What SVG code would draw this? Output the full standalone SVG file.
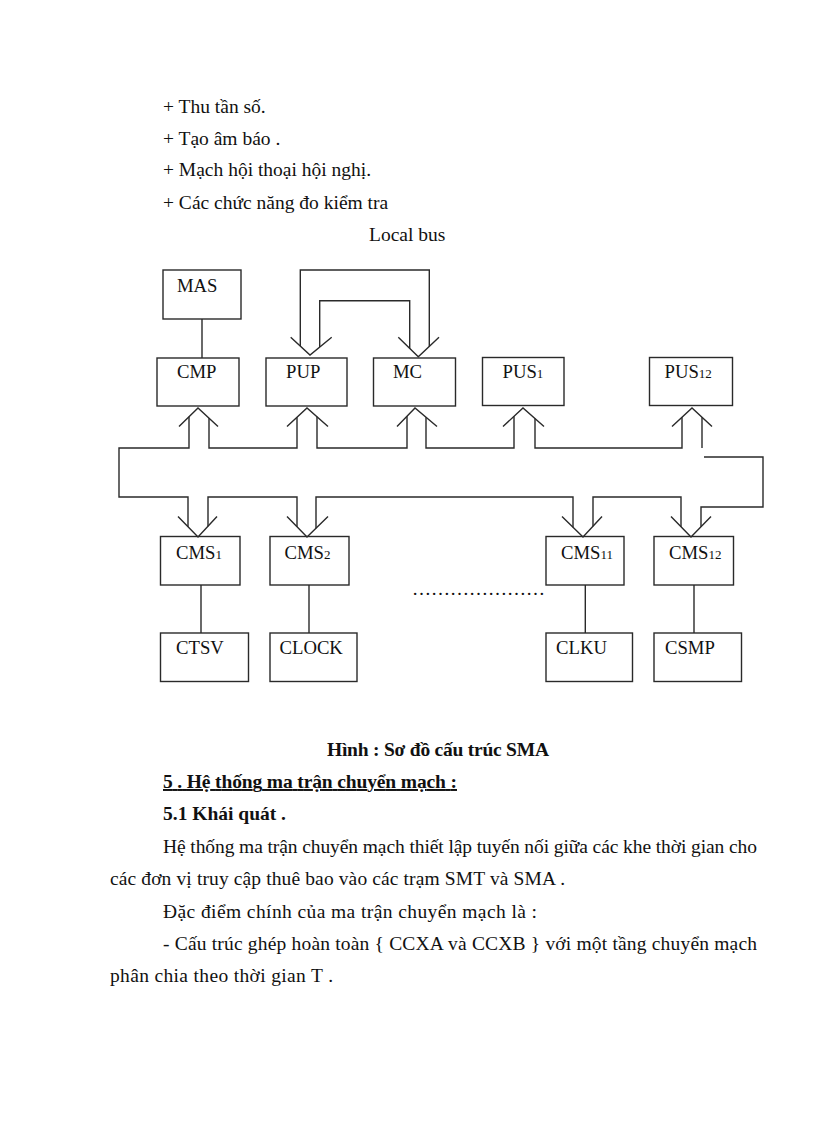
<svg xmlns="http://www.w3.org/2000/svg" width="816" height="1123" viewBox="0 0 816 1123">
<style>
.bg{fill:#fff}
.box{fill:none;stroke:#2a2a2a;stroke-width:1.4}
.ln{fill:none;stroke:#2a2a2a;stroke-width:1.4;stroke-linejoin:miter}
.lbl{font-family:"Liberation Serif","Times New Roman",serif;font-size:18.7px;fill:#111}
.sub{font-size:13px}
.t{font-family:"Liberation Serif","Times New Roman",serif;font-size:19.5px;fill:#111}
.b{font-weight:bold}
</style>
<rect class="bg" x="0" y="0" width="816" height="1123"/>

<g id="text-top">
<text class="t" x="163" y="113">+ Thu tần số.</text>
<text class="t" x="163" y="144.5">+ Tạo âm báo .</text>
<text class="t" x="163" y="176">+ Mạch hội thoại hội nghị.</text>
<text class="t" x="163" y="208.5">+ Các chức năng đo kiểm tra</text>
<text class="t" x="369" y="240.5">Local bus</text>
</g>

<g id="connectors">
<!-- MAS - CMP -->
<line class="ln" x1="202" y1="319" x2="202" y2="358"/>
<!-- loops between PUP and MC -->
<path class="ln" d="M300.3,346.1 V270 H429.3 V346.4"/>
<path class="ln" d="M319.7,347 V300.7 H409.7 V348.4"/>
<path class="ln" d="M290.7,337.3 L310,355 L331.7,337.3"/>
<path class="ln" d="M398.3,337.3 L418.3,356.7 L439,337.3"/>
<!-- up arrowheads -->
<path class="ln" d="M179,426.5 L198,408 L218,426.5"/>
<path class="ln" d="M287,426.5 L307,408 L328,426.5"/>
<path class="ln" d="M397,426.5 L415,408 L437,426.5"/>
<path class="ln" d="M503,426.5 L523,408 L544,426.5"/>
<path class="ln" d="M672,426.5 L692,408 L712,426.5"/>
<!-- down arrowheads -->
<path class="ln" d="M178,516.5 L198,537 L217,516.5"/>
<path class="ln" d="M287,516.5 L307,537 L328,516.5"/>
<path class="ln" d="M562,516.5 L583,537 L602,516.5"/>
<path class="ln" d="M671,516.5 L691,537 L711,516.5"/>
<!-- bus -->
<path class="ln" d="M189,416.8 V448 H119 V497 H188 V526.75"/>
<path class="ln" d="M209,418.2 V448 H297 V417.25"/>
<path class="ln" d="M317,416.8 V448 H407 V416.2"/>
<path class="ln" d="M426,417.25 V448 H514 V416.3"/>
<path class="ln" d="M535,418.6 V448 H682 V417.25"/>
<path class="ln" d="M702,417.25 V448"/>
<path class="ln" d="M208,526.2 V497 H297 V526.75"/>
<path class="ln" d="M316,528.2 V497 H573 V527.2"/>
<path class="ln" d="M593,526.2 V497 H681 V526.75"/>
<path class="ln" d="M701,526.75 V507 H763 V457 H704"/>
<!-- CMS to lower boxes -->
<line class="ln" x1="201" y1="585" x2="201" y2="633"/>
<line class="ln" x1="309" y1="585" x2="309" y2="633"/>
<line class="ln" x1="585.3" y1="585" x2="585.3" y2="633"/>
<line class="ln" x1="694" y1="585" x2="694" y2="633"/>
</g>

<g id="MAS"><rect class="box" x="163" y="270" width="78" height="49"/><text class="lbl" x="177" y="292">MAS</text></g>
<g id="CMP"><rect class="box" x="157" y="358" width="82" height="48"/><text class="lbl" x="177" y="378">CMP</text></g>
<g id="PUP"><rect class="box" x="266" y="358" width="81" height="48"/><text class="lbl" x="286" y="378">PUP</text></g>
<g id="MC"><rect class="box" x="373.5" y="358" width="82" height="48"/><text class="lbl" x="393" y="378">MC</text></g>
<g id="PUS1"><rect class="box" x="482.5" y="357.5" width="81.5" height="48"/><text class="lbl" x="502.5" y="378">PUS<tspan class="sub">1</tspan></text></g>
<g id="PUS12"><rect class="box" x="649.5" y="357.5" width="83" height="48"/><text class="lbl" x="664.5" y="378">PUS<tspan class="sub">12</tspan></text></g>

<g id="CMS1"><rect class="box" x="160.5" y="536.5" width="79.5" height="48.5"/><text class="lbl" x="176" y="558.5">CMS<tspan class="sub">1</tspan></text></g>
<g id="CMS2"><rect class="box" x="270" y="536.5" width="79" height="48.5"/><text class="lbl" x="284.5" y="558.5">CMS<tspan class="sub">2</tspan></text></g>
<g id="CMS11"><rect class="box" x="546" y="536.5" width="78" height="48.5"/><text class="lbl" x="561" y="558.5">CMS<tspan class="sub">11</tspan></text></g>
<g id="CMS12"><rect class="box" x="654" y="536.5" width="79.5" height="48.5"/><text class="lbl" x="669" y="558.5">CMS<tspan class="sub">12</tspan></text></g>

<g id="CTSV"><rect class="box" x="160.5" y="633" width="88" height="48.5"/><text class="lbl" x="176" y="653.5">CTSV</text></g>
<g id="CLOCK"><rect class="box" x="270" y="633" width="87" height="48.5"/><text class="lbl" x="279.5" y="653.5">CLOCK</text></g>
<g id="CLKU"><rect class="box" x="546" y="633" width="86.5" height="48.5"/><text class="lbl" x="556" y="653.5">CLKU</text></g>
<g id="CSMP"><rect class="box" x="654" y="633" width="87.5" height="48.5"/><text class="lbl" x="665" y="653.5">CSMP</text></g>

<g id="ellipsis"><text class="t" x="412" y="595" textLength="133" lengthAdjust="spacingAndGlyphs">…………………</text></g>

<g id="text-bottom">
<text class="t b" x="327" y="756" textLength="222" lengthAdjust="spacing">Hình : Sơ đồ cấu trúc SMA</text>
<text class="t b" x="163" y="788" textLength="294" lengthAdjust="spacing" text-decoration="underline">5 . Hệ thống ma trận chuyển mạch :</text>
<text class="t b" x="163" y="820">5.1 Khái quát .</text>
<text class="t" x="163" y="853" textLength="594" lengthAdjust="spacing">Hệ thống ma trận chuyển mạch thiết lập tuyến nối giữa các khe thời gian cho</text>
<text class="t" x="110" y="885" textLength="455" lengthAdjust="spacing">các đơn vị truy cập thuê bao vào các trạm SMT và SMA .</text>
<text class="t" x="163" y="917.5" textLength="374" lengthAdjust="spacing">Đặc điểm chính của ma trận chuyển mạch là :</text>
<text class="t" x="163" y="949.5" textLength="594" lengthAdjust="spacing">- Cấu trúc ghép hoàn toàn { CCXA và CCXB } với một tầng chuyển mạch</text>
<text class="t" x="110" y="981.5" textLength="223" lengthAdjust="spacing">phân chia theo thời gian T .</text>
</g>
</svg>
